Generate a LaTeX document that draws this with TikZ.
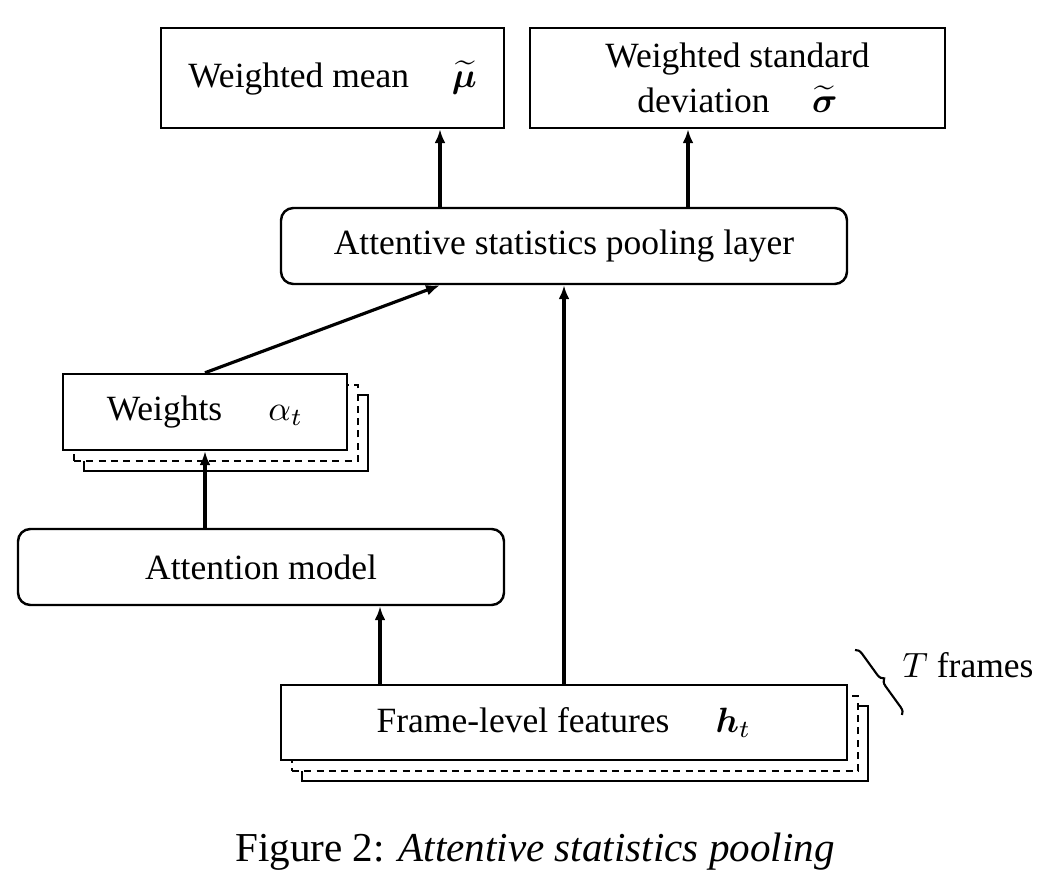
\documentclass[tikz,border=0pt]{standalone}
\usepackage{fontspec}
\setmainfont{Liberation Serif}
\usepackage{amsmath}
\usepackage{amssymb}
\usepackage{bm}
\usetikzlibrary{arrows.meta, shadows, decorations.pathreplacing}
\tikzset{
  box/.style={draw, line width=0.7pt, fill=white, inner sep=0pt,
    font=\fontsize{10.1}{12.6}\selectfont},
  roundbox/.style={box, rounded corners=3.5pt},
  stackbox/.style={box,
    copy shadow={shadow xshift=0.21cm, shadow yshift=-0.21cm, fill=white, draw=black, line width=0.7pt},
    copy shadow={shadow xshift=0.11cm, shadow yshift=-0.11cm, fill=white, draw=black, line width=0.7pt, dash pattern=on 2pt off 1.5pt}},
  arr/.style={line width=0.9pt, -{Latex[length=1.4mm, width=1.1mm]}}
}
\begin{document}
\begin{tikzpicture}
        \useasboundingbox (0,0) rectangle (10.48,8.89);

        % Draw the two output boxes
        \node[box, minimum width=3.43cm, minimum height=1cm] (mean) at (3.325,8.11)
            {Weighted mean\hspace{1.2em}$\widetilde{\bm{\mu}}$};
        \node[box, minimum width=4.15cm, minimum height=1cm, align=center] (std) at (7.375,8.11)
            {Weighted standard\\deviation\hspace{1.2em}$\widetilde{\bm{\sigma}}$};

        % Draw the pooling layer
        \node[roundbox, minimum width=5.66cm, minimum height=0.76cm] (pool) at (5.64,6.43)
            {Attentive statistics pooling layer};

        % Draw the weights (stacked)
        \node[stackbox, minimum width=2.84cm, minimum height=0.76cm] (weights) at (2.05,4.77)
            {Weights\hspace{1.3em}$\alpha_t$};

        % Draw the attention model
        \node[roundbox, minimum width=4.86cm, minimum height=0.76cm] (attn) at (2.61,3.22)
            {Attention model};

        % Draw the frame-level features (stacked)
        \node[stackbox, minimum width=5.66cm, minimum height=0.75cm] (feat) at (5.64,1.665)
            {Frame-level features\hspace{1.3em}$\bm{h}_t$};

        % Draw the arrows
        \draw[arr] (pool.north -| 4.40,0) -- (mean.south -| 4.40,0);
        \draw[arr] (pool.north -| 6.88,0) -- (std.south -| 6.88,0);
        \draw[arr] (weights.north) -- (pool.south -| 4.40,0);
        \draw[arr] (attn.north -| weights.south) -- (weights.south);
        \draw[arr] (feat.north -| 3.80,0) -- (attn.south -| 3.80,0);
        \draw[arr] (feat.north) -- (pool.south);

        % Draw the brace for the T frames
        \coordinate (bracetop) at (8.55,2.39);
        \coordinate (bracebot) at (9.02,1.74);
        \draw[line width=0.6pt, decorate, decoration={brace, amplitude=2pt}] (bracetop) -- (bracebot);
        \node[font=\fontsize{10.1}{12.6}\selectfont] (frames) at (9.68,2.24) {$T$ frames};

        % Draw the caption
        \node[font=\fontsize{11.7}{14}\selectfont] (caption) at (5.35,0.37)
            {Figure 2: \textit{Attentive statistics pooling}};
    \end{tikzpicture}
\end{document}
